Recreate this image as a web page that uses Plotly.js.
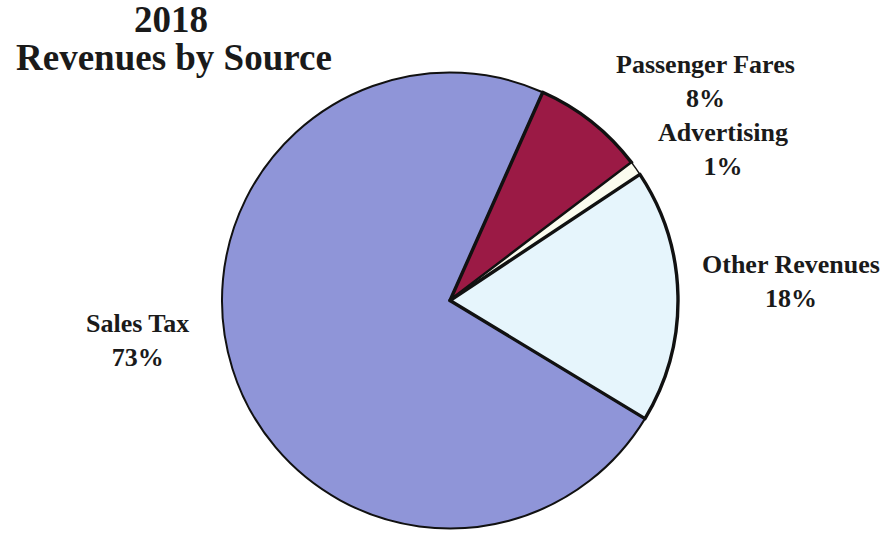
<!DOCTYPE html>
<html>
<head>
<meta charset="utf-8">
<script src="https://cdn.plot.ly/plotly-3.0.1.min.js"></script>
<style>html,body{margin:0;padding:0;background:#fff;}#chart{width:887px;height:533px;}</style>
</head>
<body>
<div id="chart"></div>
<script>
var categories = ["Sales Tax", "Passenger Fares", "Advertising", "Other Revenues"];
var percents = [73, 8, 1, 18];
var sliceColors = ["#8f95d8", "#9b1a45", "#fbfcef", "#e6f5fc"];
var lineWidths = [2, 3.4, 1.5, 3.4];

var titleLine1 = "2018";
var titleLine2 = "Revenues by Source";

var W = 887, H = 533;
function py(px) { return 1 - px / H; }
function px(x) { return x / W; }

var labelPos = {
  "Passenger Fares": [705, 81],
  "Advertising": [723, 150],
  "Other Revenues": [791, 281],
  "Sales Tax": [137, 341]
};

var font = "Liberation Serif, Times New Roman, serif";
var annotations = categories.map(function (c, i) {
  return {
    text: "<b>" + c + "<br>" + percents[i] + "%</b>",
    x: px(labelPos[c][0]), y: py(labelPos[c][1]),
    xref: "paper", yref: "paper", xanchor: "center", yanchor: "middle",
    showarrow: false, align: "center",
    font: { family: font, size: 26, color: "#1a1a1a" }
  };
});
annotations.push({
  text: "<b>" + titleLine2 + "</b>",
  x: px(174), y: py(58), xref: "paper", yref: "paper",
  xanchor: "center", yanchor: "middle", showarrow: false,
  font: { family: font, size: 37, color: "#1a1a1a" }
});

var data = [{
  type: "pie",
  labels: categories,
  values: percents,
  sort: false,
  direction: "clockwise",
  rotation: 121.2,
  textinfo: "none",
  hoverinfo: "none",
  marker: { colors: sliceColors, line: { color: "#111111", width: lineWidths } },
  domain: { x: [222 / W, 678 / W], y: [3 / H, 462 / H] },
  showlegend: false
}];

var layout = {
  width: W, height: H,
  margin: { l: 0, r: 0, t: 0, b: 0 },
  paper_bgcolor: "#ffffff",
  showlegend: false,
  title: {
    text: "<b>" + titleLine1 + "</b>",
    x: px(171), xanchor: "center",
    y: py(19), yanchor: "middle", yref: "container",
    font: { family: font, size: 37, color: "#1a1a1a" }
  },
  annotations: annotations
};

Plotly.newPlot("chart", data, layout, { displayModeBar: false, staticPlot: true });
</script>
</body>
</html>
